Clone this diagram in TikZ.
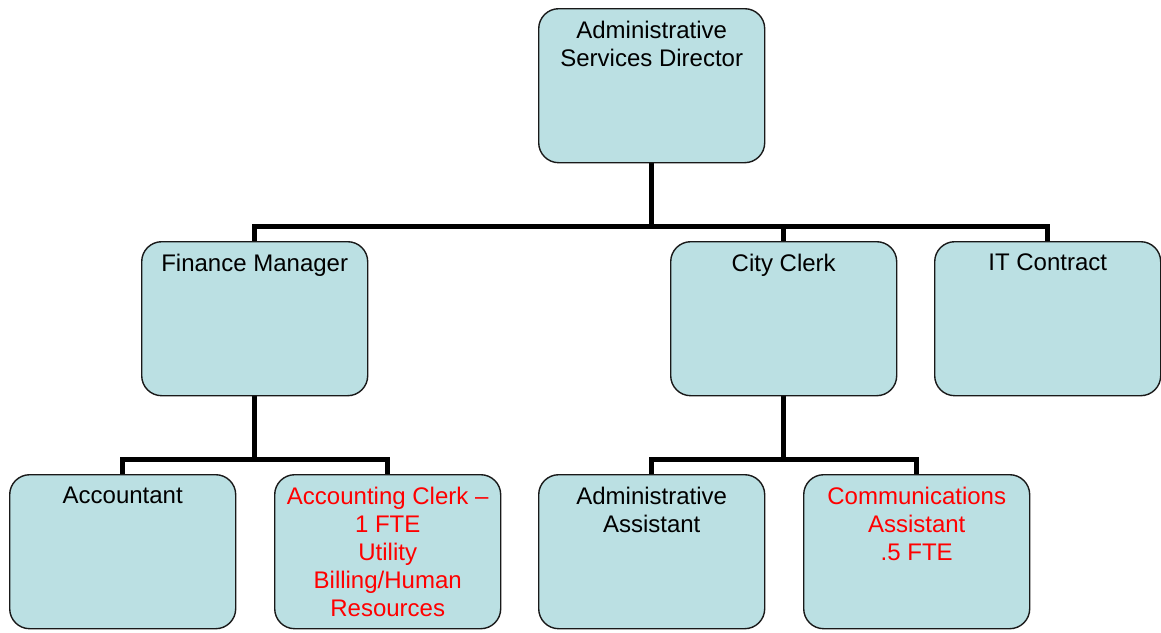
\documentclass[tikz,border=0pt]{standalone}
\usepackage{fontspec}
\setmainfont{Liberation Sans}
\begin{document}
\begin{tikzpicture}[x=1pt,y=-1pt,
  box/.style={draw=black!90,line width=1.4pt,fill=boxfill,rounded corners=20pt,
    minimum width=226pt,minimum height=154pt,inner sep=0pt,anchor=north west},
  lbl/.style={anchor=north,inner sep=0pt,align=center,font=\fontsize{24}{28}\selectfont},
  red/.style={text=red},
  conn/.style={line width=5pt,black,line join=miter}]
\definecolor{boxfill}{HTML}{BBE0E3}
\useasboundingbox (0,0) rectangle (1161,632);
% junction coordinates
\coordinate (j1) at (651,226);
\coordinate (j2) at (254,459);
\coordinate (j3) at (783,459);
% connectors (drawn first, under the boxes)
\coordinate (topS) at (651,162);
\coordinate (fmN) at (254,242);
\coordinate (ccN) at (783,242);
\coordinate (itN) at (1047,242);
\coordinate (fmS) at (254,395);
\coordinate (ccS) at (783,395);
\coordinate (acN) at (122,475);
\coordinate (clN) at (387,475);
\coordinate (aaN) at (651,475);
\coordinate (caN) at (916,475);
\draw[conn] (topS) -- (topS |- j1);
\draw[conn] (fmN) -- (fmN |- j1) -- (itN |- j1) -- (itN);
\draw[conn] (ccN) -- (ccN |- j1);
\draw[conn] (fmS) -- (fmS |- j2);
\draw[conn] (acN) -- (acN |- j2) -- (clN |- j2) -- (clN);
\draw[conn] (ccS) -- (ccS |- j3);
\draw[conn] (aaN) -- (aaN |- j3) -- (caN |- j3) -- (caN);
% boxes
\node[box] (top) at (538,8) {};
\node[box] (fm) at (141,241) {};
\node[box] (cc) at (670,241) {};
\node[box] (it) at (934,241) {};
\node[box] (ac) at (9,474) {};
\node[box] (cl) at (274,474) {};
\node[box] (aa) at (538,474) {};
\node[box] (ca) at (803,474) {};
% labels
\node[lbl] (ttop) at ([yshift=-12.8pt]top.north) {Administrative\\Services Director};
\node[lbl] (tfm) at ([yshift=-12.8pt]fm.north) {Finance Manager};
\node[lbl] (tcc) at ([yshift=-12.8pt]cc.north) {City Clerk};
\node[lbl] (tit) at ([yshift=-12.8pt]it.north) {IT Contract};
\node[lbl] (tac) at ([yshift=-12.8pt]ac.north) {Accountant};
\node[lbl,red] (tcl) at ([yshift=-12.8pt]cl.north) {Accounting Clerk –\\1 FTE\\Utility\\Billing/Human\\Resources};
\node[lbl] (taa) at ([yshift=-12.8pt]aa.north) {Administrative\\Assistant};
\node[lbl,red] (tca) at ([yshift=-12.8pt]ca.north) {Communications\\Assistant\\.5 FTE};
\end{tikzpicture}
\end{document}
